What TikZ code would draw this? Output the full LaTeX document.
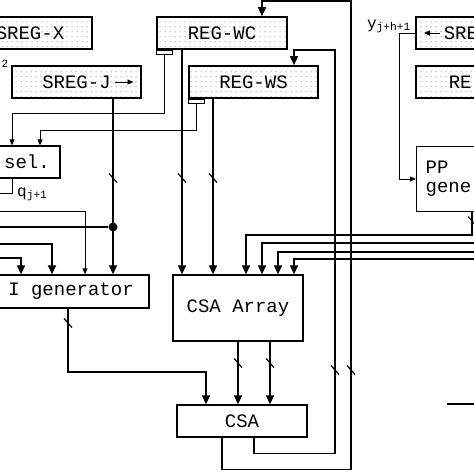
\documentclass[tikz,border=0pt]{standalone}
\usepackage{fontspec}
\setmonofont{Liberation Mono}
\usetikzlibrary{arrows.meta,patterns}
\pgfdeclarepatternformonly{regdots}{\pgfpointorigin}{\pgfpoint{4.5pt}{5pt}}{\pgfpoint{4.5pt}{5pt}}{\pgfpathcircle{\pgfpoint{2.25pt}{2.5pt}}{0.65pt}\pgfusepath{fill}}
\newcommand\bigtt{\ttfamily\fontsize{19}{21}\selectfont}
\newcommand\lbltt{\ttfamily\fontsize{16}{18}\selectfont}
\begin{document}
\begin{tikzpicture}[x=1pt,y=-1pt,
 wire/.style={line width=1.5pt},
 sig/.style={line width=0.8pt},
 arr/.style={-{Triangle[length=9pt,width=8pt]}},
 sarr/.style={-{Triangle[length=6pt,width=5pt]}},
 reg/.style={draw,line width=1.6pt,pattern=regdots,pattern color=black!55,font=\bigtt,inner sep=0pt,minimum height=32pt},
 blk/.style={draw,line width=1.3pt,font=\bigtt,inner sep=0pt},
 tab/.style={draw,line width=0.8pt,inner sep=0pt,minimum width=16pt,minimum height=4pt},
 dotn/.style={circle,fill,inner sep=0pt,minimum size=9pt},
 pics/tk/.style={code={\draw[line width=1.2pt] (-4,-4.5) -- (4,4.5);}}
]
\useasboundingbox (0,0) rectangle (474,474);
\begin{scope}
\clip (0,0) rectangle (474,474);
% registers
\node[reg,minimum width=124pt] (X) at (30,33) {SREG-X};
\node[reg,minimum width=129pt] (J) at (76.5,82) {SREG-J};
\draw[sig,sarr] ([xshift=38pt]J.center) -- ([xshift=57pt]J.center);
\node[reg,minimum width=130pt] (WC) at (222,33) {REG-WC};
\node[reg,minimum width=129pt] (WS) at (253.5,82) {REG-WS};
\node[tab,anchor=north west] (tWC) at (WC.south west) {};
\node[tab,anchor=north west] (tWS) at (WS.south west) {};
\node[reg,anchor=west,text width=100pt,inner xsep=28pt,align=left] (Y) at (415,33) {SRE};
\draw[sig,sarr] ([xshift=25pt]Y.west) -- ([xshift=9pt]Y.west);
\node[reg,anchor=west,text width=100pt,inner xsep=33pt,align=left] (R) at (415,82) {RE};
% blocks
\node[blk,anchor=north west,minimum height=65pt,text width=100pt,inner xsep=9pt,align=left] (PP) at (416,146) {PP\\[-2pt]gene};
\node[blk,minimum width=66pt,minimum height=32pt] (sel) at (27,162) {sel.};
\node[blk,minimum width=156pt,minimum height=33pt] (GI) at (71,291.5) {I generator};
\node[blk,minimum width=130pt,minimum height=66pt] (CA) at (238,308) {CSA Array};
\node[blk,minimum width=130pt,minimum height=32pt] (CSA) at (242,421) {CSA};
% labels
\node[font=\ttfamily\fontsize{11}{12}\selectfont,inner sep=0pt] (two) at (5,64) {2};
\node[anchor=base west,font=\lbltt,inner sep=0pt] (q) at (17,196) {q\textsubscript{j+1}};
\node[anchor=base east,font=\lbltt,inner sep=0pt] (ylab) at (411,28) {y\textsubscript{j+h+1}};
% thin control wires
\draw[sig,sarr] (tWC.south) -- (tWC.south |- 0,113) -| ([xshift=-15pt]sel.north);
\draw[sig,sarr] (tWS.south) -- (tWS.south |- 0,130) -| ([xshift=13pt]sel.north);
\coordinate (eE) at (-3,193);
\draw[sig] ([xshift=-15pt]sel.south) |- (eE);
% SREG-J to GI
\draw[wire,arr] (J.south -| 113,0) -- (GI.north -| 113,0);
\pic at (113,178) {tk};
\node[dotn] (d) at (113,227) {};
\coordinate (eA) at (-3,227);
\draw[wire] (eA) -- (d);
\coordinate (eB) at (-3,211);
\draw[sig,sarr] (eB) -| (GI.north -| 85,0);
\coordinate (eC) at (-3,244);
\draw[wire,arr] (eC) -| (GI.north -| 52,0);
\coordinate (eD) at (-3,258);
\draw[wire,arr] (eD) -| (GI.north -| 21,0);
% WC/WS to CSA array
\draw[wire,arr] (WC.south -| 182,0) -- (CA.north -| 182,0);
\pic at (182,178) {tk};
\draw[wire,arr] (WS.south -| 213,0) -- (CA.north -| 213,0);
\pic at (213,178) {tk};
% feedback loops
\draw[wire,arr] ([xshift=-20pt]CSA.south) -- ++(0,32) -| (351,1) -| (WC.north -| 262,0);
\draw[wire,arr] ([xshift=12pt]CSA.south) -- ++(0,16) -| (335,50) -| (WS.north -| 294,0);
\pic at (351,370) {tk};
\pic at (335,370) {tk};
% CSA array to CSA
\draw[wire,arr] (CA.south -| 238,0) -- (CSA.north -| 238,0);
\pic at (238,363) {tk};
\draw[wire,arr] (CA.south -| 270,0) -- (CSA.north -| 270,0);
\pic at (270,363) {tk};
% GI to CSA
\draw[wire,arr] (GI.south -| 68,0) |- (206,372) -- (CSA.north -| 206,0);
\pic at (68,323) {tk};
% PP generator to CSA array
\draw[wire,arr] (PP.south -| 472,0) |- (246,235) -- (CA.north -| 246,0);
\pic at (472,221) {tk};
\coordinate (eF) at (477,243);
\draw[wire,arr] (eF) -| (CA.north -| 262,0);
\coordinate (eG) at (477,252);
\draw[wire,arr] (eG) -| (CA.north -| 278,0);
\coordinate (eH) at (477,259);
\draw[wire,arr] (eH) -| (CA.north -| 294,0);
% y input to PP generator
\draw[sig,sarr] (Y.west) -- (399,33) |- (PP.west |- 0,179);
% fragment bottom right
\coordinate (eI) at (447,404);
\coordinate (eJ) at (477,404);
\draw[wire] (eI) -- (eJ);
\end{scope}
\end{tikzpicture}
\end{document}
